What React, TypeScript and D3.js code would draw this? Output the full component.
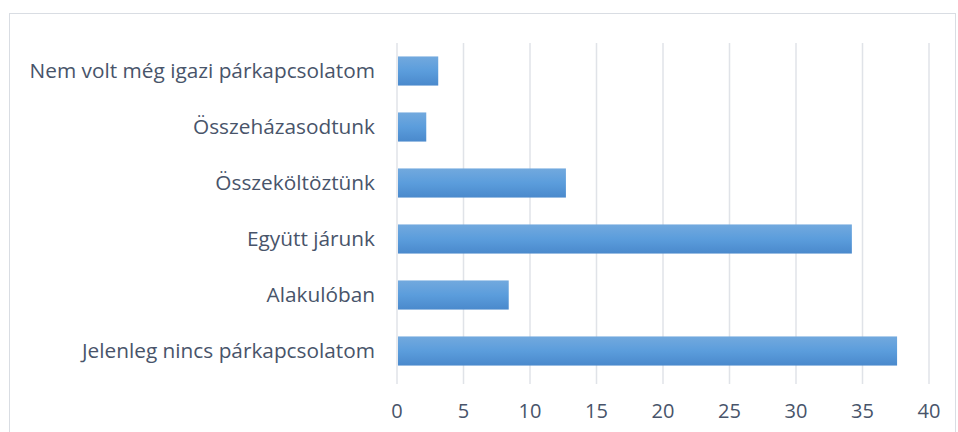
import React from "react";
import { scaleLinear, scaleBand } from "d3";

const categories = [
  "Nem volt még igazi párkapcsolatom",
  "Összeházasodtunk",
  "Összeköltöztünk",
  "Együtt járunk",
  "Alakulóban",
  "Jelenleg nincs párkapcsolatom",
];
const values = [3.1, 2.2, 12.7, 34.2, 8.4, 37.6];
const ticks = [0, 5, 10, 15, 20, 25, 30, 35, 40];

const App = () => {
  const width = 958;
  const height = 432;
  const left = 397;
  const right = 929;
  const top = 43;
  const bottom = 379;
  const font = "'Open Sans', Lato, sans-serif";
  const textColor = "#48546a";

  // scales
  const xScale = scaleLinear().domain([0, 40]).range([left, right]);
  const yScale = scaleBand<string>()
    .domain(categories)
    .range([top, bottom])
    .paddingInner(0.48)
    .paddingOuter(0.24);

  const gridlines = ticks.map((t) => (
    <g key={t}>
      <line
        x1={xScale(t)}
        x2={xScale(t)}
        y1={top}
        y2={bottom + 5}
        stroke="#e0e3e8"
        strokeWidth={1.5}
      />
      <text
        x={xScale(t)}
        y={418}
        textAnchor="middle"
        fontSize={20}
        fill={textColor}
        fontFamily={font}
      >
        {t}
      </text>
    </g>
  ));

  const bars = categories.map((c, i) => (
    <rect
      key={c}
      x={xScale(0) + 1}
      y={yScale(c)}
      width={xScale(values[i]) - xScale(0) - 1}
      height={yScale.bandwidth()}
      fill="url(#barGrad)"
    />
  ));

  const labels = categories.map((c) => (
    <text
      key={c}
      x={375}
      y={(yScale(c) ?? 0) + yScale.bandwidth() / 2}
      dy="0.35em"
      textAnchor="end"
      fontSize={20.8}
      fill={textColor}
      fontFamily={font}
    >
      {c}
    </text>
  ));

  return (
    <svg
      width={width}
      height={height}
      style={{ position: "absolute", left: 0, top: 0 }}
    >
      <defs>
        <linearGradient id="barGrad" x1="0" y1="0" x2="0" y2="1">
          <stop offset="0%" stopColor="#72a9de" />
          <stop offset="50%" stopColor="#5b9ddc" />
          <stop offset="100%" stopColor="#4a89cc" />
        </linearGradient>
      </defs>
      <rect x={9.5} y={13.5} width={946} height={430} fill="#fff" stroke="#d9dde3" />
      {gridlines}
      {bars}
      {labels}
    </svg>
  );
};

export default App;
